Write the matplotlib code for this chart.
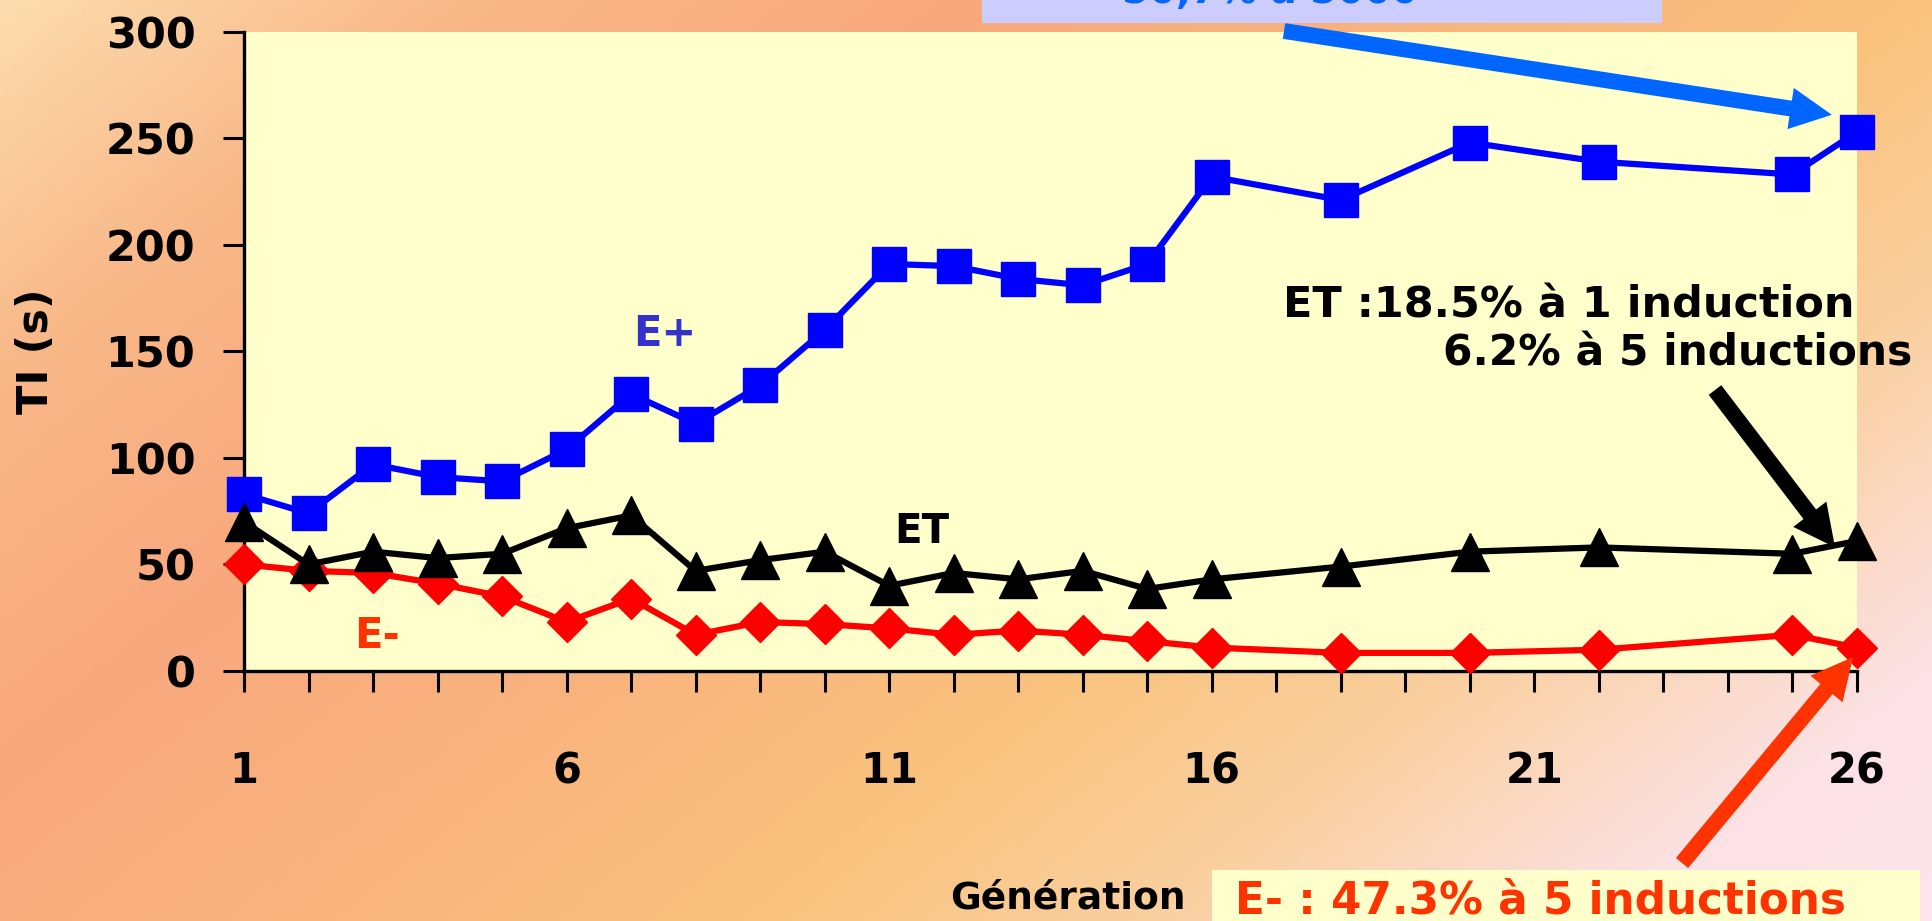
import numpy as np
import matplotlib
matplotlib.use('Agg')
import matplotlib.pyplot as plt
from matplotlib.colors import LinearSegmentedColormap
from matplotlib.patches import Rectangle

plt.rcParams['font.family'] = ['DejaVu Sans']
plt.rcParams['font.weight'] = 'bold'

# data
generations = [1, 2, 3, 4, 5, 6, 7, 8, 9, 10, 11, 12, 13, 14, 15, 16, 18, 20, 22, 25, 26]
e_plus = [83, 74, 97, 91, 89, 104, 130, 116, 134, 160, 191, 190, 184, 181, 191,
          232, 221, 248, 239, 233, 253]
et = [70, 50, 56, 53, 55, 67, 73, 47, 52, 56, 40, 46, 43, 47, 38.5,
      43, 49, 56, 58, 55, 61]
e_minus = [50, 47, 46, 41, 35, 23, 34, 17, 23, 22, 20, 17, 19, 17, 14,
           11, 8.5, 8.5, 10, 17, 11]
x_ticks = list(range(1, 27))
x_ticklabels = [str(i) if (i - 1) % 5 == 0 else '' for i in x_ticks]
y_ticks = [0, 50, 100, 150, 200, 250, 300]

W, H = 1932, 921
fig = plt.figure(figsize=(W / 100, H / 100), dpi=100)

# background gradient
bg = fig.add_axes([0, 0, 1, 1], zorder=-10)
bg.axis('off')
gx, gy = np.meshgrid(np.linspace(0, 1, 400), np.linspace(0, 1, 200))
t = 0.5 * gx + 0.3 * gy
cmap = LinearSegmentedColormap.from_list('bg', [
    (0.0, '#FCDCAE'), (0.12, '#F9B888'), (0.25, '#F8A87D'), (0.38, '#F9B47D'),
    (0.5, '#F9C37E'), (0.6, '#FAD0A0'), (0.72, '#FCE2E6'), (0.85, '#FDE6EE'),
    (1.0, '#FCE0E0')])
bg.imshow(t, cmap=cmap, vmin=0, vmax=1, extent=[0, 1, 0, 1], origin='upper', aspect='auto')
bg.set_xlim(0, 1)
bg.set_ylim(0, 1)

ax = fig.add_axes([244 / W, 1 - 671 / H, (1857 - 244) / W, (671 - 31.7) / H])
ax.set_facecolor('#FFFFCC')

ax.plot(generations, e_minus, color='#FF0000', lw=4.5, marker='D', ms=20,
        clip_on=False, zorder=3)
ax.plot(generations, e_plus, color='#0000FF', lw=4.5, marker='s', ms=24,
        clip_on=False, zorder=4)
ax.plot(generations, et, color='black', lw=4.5, marker='^', ms=27,
        clip_on=False, zorder=5)

ax.set_xlim(1, 26)
ax.set_ylim(0, 300)
ax.set_xticks(x_ticks)
ax.set_xticklabels(x_ticklabels)
ax.set_yticks(y_ticks)
for s in ['top', 'right']:
    ax.spines[s].set_visible(False)
for s in ['left', 'bottom']:
    ax.spines[s].set_linewidth(2.4)
ax.tick_params(axis='x', direction='out', length=15, width=2.2, pad=42, labelsize=30)
ax.tick_params(axis='y', direction='out', length=15, width=2.2, pad=20, labelsize=31)
ax.set_ylabel('TI (s)', fontsize=31, fontweight='bold')
ax.yaxis.set_label_coords(-0.116, 0.5)

# series labels
ax.text(665, H - 334, 'E+', transform=None, fontsize=30, color='#3333CC',
        ha='center', va='center')
ax.text(922, H - 532, 'ET', transform=None, fontsize=29, color='black',
        ha='center', va='center')
ax.text(377, H - 636, 'E-', transform=None, fontsize=30, color='#FF3300',
        ha='center', va='center')

# annotations
fig.text(1283 / W, 1 - 305 / H, 'ET :18.5% à 1 induction', fontsize=31,
         ha='left', va='center')
fig.text(1912 / W, 1 - 353 / H, '6.2% à 5 inductions', fontsize=30.5,
         ha='right', va='center')

fig.text(1068 / W, 1 - 898 / H, 'Génération', fontsize=27, ha='center', va='center')
fig.patches.append(Rectangle((1212 / W, 0), (1920 - 1212) / W, (921 - 870) / H,
                             transform=fig.transFigure, facecolor='#FFFFCC',
                             edgecolor='none', zorder=1))
fig.text(1235 / W, 1 - 901 / H, 'E- : 47.3% à 5 inductions', fontsize=31.5,
         color='#FF3300', ha='left', va='center', zorder=2)

# top banner (clipped at figure top)
fig.patches.append(Rectangle((982 / W, 1 - 22.7 / H), (1662 - 982) / W, 30 / H,
                             transform=fig.transFigure, facecolor='#CCCCFF',
                             edgecolor='none', zorder=1))
fig.text(1270 / W, 1 - 3 / H, '50,7% à 5000', fontsize=28, color='#0066FF',
         ha='center', va='baseline', zorder=2)

arrow = 'simple,head_length=1.0,head_width=1.0,tail_width=0.38'
ax.annotate('', xy=(25.61, 261), xycoords='data', xytext=(1284, H - 31),
            textcoords='figure pixels', annotation_clip=False,
            arrowprops=dict(arrowstyle=arrow, mutation_scale=30, fc='#0066FF',
                            ec='none', shrinkA=0, shrinkB=0), zorder=6)
ax.annotate('', xy=(25.66, 58), xycoords='data', xytext=(1715, H - 390),
            textcoords='figure pixels', annotation_clip=False,
            arrowprops=dict(arrowstyle=arrow, mutation_scale=30, fc='black',
                            ec='none', shrinkA=0, shrinkB=0), zorder=6)
ax.annotate('', xy=(25.94, 6.6), xycoords='data', xytext=(1682, H - 863),
            textcoords='figure pixels', annotation_clip=False,
            arrowprops=dict(arrowstyle=arrow, mutation_scale=30, fc='#FF3300',
                            ec='none', shrinkA=0, shrinkB=0), zorder=6)

fig.savefig('out.png', dpi=100)
